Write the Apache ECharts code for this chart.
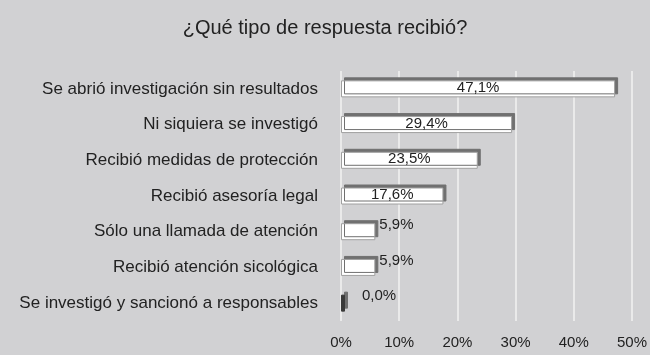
<!DOCTYPE html>
<html><head><meta charset="utf-8">
<script src="https://cdn.jsdelivr.net/npm/echarts@6/dist/echarts.min.js"></script>
<style>html,body{margin:0;padding:0;background:#d1d1d3}#c{width:650px;height:355px}</style>
</head><body><div id="c"></div>
<script>
const categories = ["Se abrió investigación sin resultados","Ni siquiera se investigó","Recibió medidas de protección","Recibió asesoría legal","Sólo una llamada de atención","Recibió atención sicológica","Se investigó y sancionó a responsables"];
const values = [47.1, 29.4, 23.5, 17.6, 5.9, 5.9, 0.0];
const titleText = "¿Qué tipo de respuesta recibió?";
const xTicks = [0, 10, 20, 30, 40, 50];

const chart = echarts.init(document.getElementById('c'));
const fmt = v => v.toFixed(1).replace('.', ',') + '%';
chart.setOption({
  backgroundColor: '#d1d1d3',
  animation: false,
  title: { text: titleText, left: 'center', top: 13, textStyle: { fontFamily: 'Liberation Sans', fontSize: 20, fontWeight: 'normal', color: '#222' } },
  grid: { left: 341, right: 18, top: 71, bottom: 34 },
  xAxis: {
    type: 'value', min: 0, max: 50, interval: 10,
    axisLine: { show: false }, axisTick: { show: false },
    splitLine: { lineStyle: { color: '#f2f2f2', width: 1.5 } },
    axisLabel: { formatter: v => xTicks.includes(v) ? v + '%' : '', fontFamily: 'Liberation Sans', fontSize: 15, color: '#222', margin: 14 }
  },
  yAxis: {
    type: 'category', data: categories, inverse: true,
    axisLine: { show: false }, axisTick: { show: false },
    axisLabel: { fontFamily: 'Liberation Sans', fontSize: 17, color: '#222', margin: 23, padding: [6, 0, 0, 0] }
  },
  series: [{
    type: 'bar', barWidth: 17, barMinHeight: 4,
    data: values.map((v, i) => ({
      value: v,
      itemStyle: v === 0 ? { color: '#3a3a3a', borderColor: '#3a3a3a' } : undefined,
      label: v < 10 ? { position: 'right', offset: [0, -7], distance: 4 + (v === 0 ? 13 : 0) } : { position: 'inside', offset: [0, -1] }
    })),
    itemStyle: { color: '#ffffff', borderColor: '#a0a0a0', borderWidth: 1, shadowColor: '#707070', shadowOffsetX: 3, shadowOffsetY: -3, shadowBlur: 0 },
    label: { show: true, formatter: p => fmt(p.value), fontFamily: 'Liberation Sans', fontSize: 15, color: '#222' }
  }]
});
</script></body></html>
